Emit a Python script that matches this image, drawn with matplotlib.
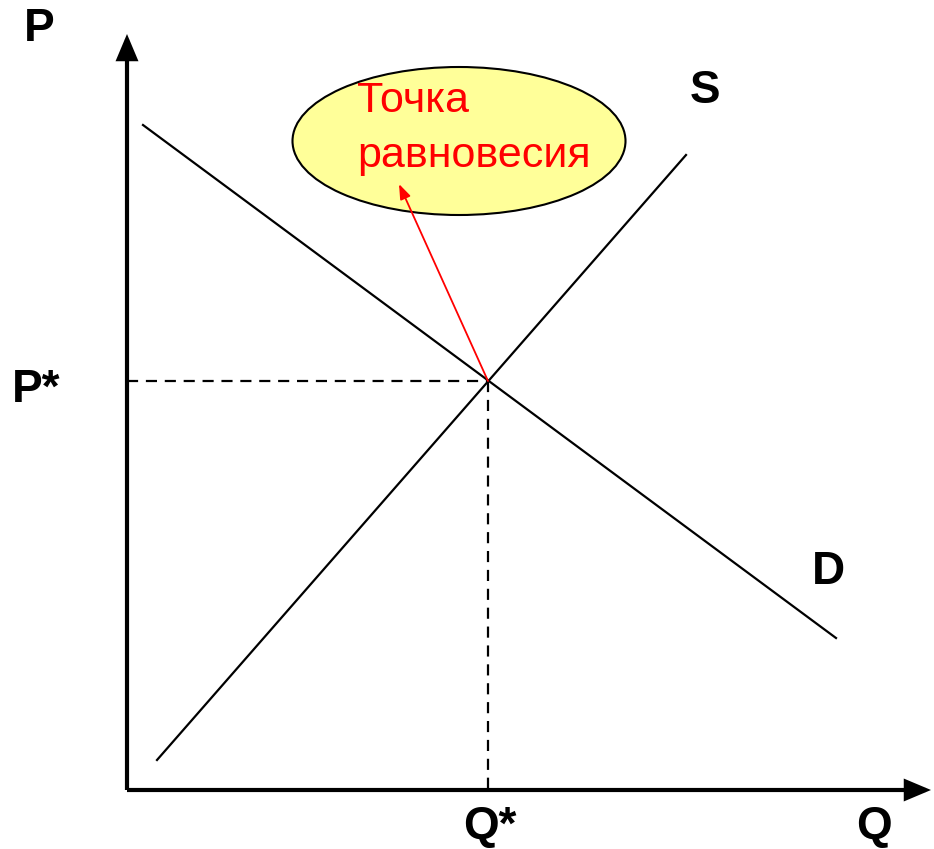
import matplotlib.pyplot as plt
from matplotlib.patches import Ellipse, FancyArrowPatch

plt.rcParams['font.family'] = ['Liberation Sans', 'DejaVu Sans']

# picture coordinates (pixels, y goes down)
axis_origin = (127, 790)
axis_y_tip = (127, 34)
axis_x_tip = (931, 790)

demand_x = [143, 836]
demand_y = [125, 638]
supply_x = [157, 686]
supply_y = [760, 155]

eq_point = (488, 381)
callout_tip = (399, 184)

bubble_center = (459, 141)
bubble_size = (333, 148)
bubble_text = ['Точка', 'равновесия']

labels = {'P': (39, 29), 'S': (705, 91), 'D': (828, 572),
          'P*': (36, 390), 'Q*': (490, 827), 'Q': (874, 827)}

fig = plt.figure(figsize=(9.34, 8.49), dpi=100)
ax = fig.add_axes([0, 0, 1, 1])
ax.set_xlim(0, 934)
ax.set_ylim(849, 0)
ax.axis('off')

# axes with arrows
for tip in [axis_y_tip, axis_x_tip]:
    ax.add_patch(FancyArrowPatch(axis_origin, tip, arrowstyle='-|>,head_length=0.95,head_width=0.4',
                                 mutation_scale=15, lw=3, color='black',
                                 shrinkA=0, shrinkB=0, joinstyle='miter', capstyle='butt'))

# curves
ax.plot(demand_x, demand_y, color='black', lw=1.6)
ax.plot(supply_x, supply_y, color='black', lw=1.6)

# dashed guides
ax.plot([axis_origin[0], eq_point[0]], [eq_point[1], eq_point[1]], color='black', lw=1.6, ls=(0, (5, 3.5)))
ax.plot([eq_point[0], eq_point[0]], [eq_point[1], axis_origin[1]], color='black', lw=1.6, ls=(0, (5, 3.5)))

# bubble
ax.add_patch(Ellipse(bubble_center, bubble_size[0], bubble_size[1], facecolor='#ffff99',
                     edgecolor='black', lw=1.5, zorder=3))
ax.text(357, 101, bubble_text[0], color='red', fontsize=31, va='center', ha='left', zorder=4)
ax.text(357, 156, bubble_text[1], color='red', fontsize=31, va='center', ha='left', zorder=4)

ax.add_patch(FancyArrowPatch(eq_point, callout_tip, arrowstyle='-|>,head_length=0.6,head_width=0.22',
                             mutation_scale=15, lw=1.3, color='red', shrinkA=0, shrinkB=0, zorder=5))

for txt, (x, y) in labels.items():
    ax.text(x, y, txt, fontsize=33, fontweight='bold', ha='center', va='center')

plt.savefig('out.png', dpi=100)
